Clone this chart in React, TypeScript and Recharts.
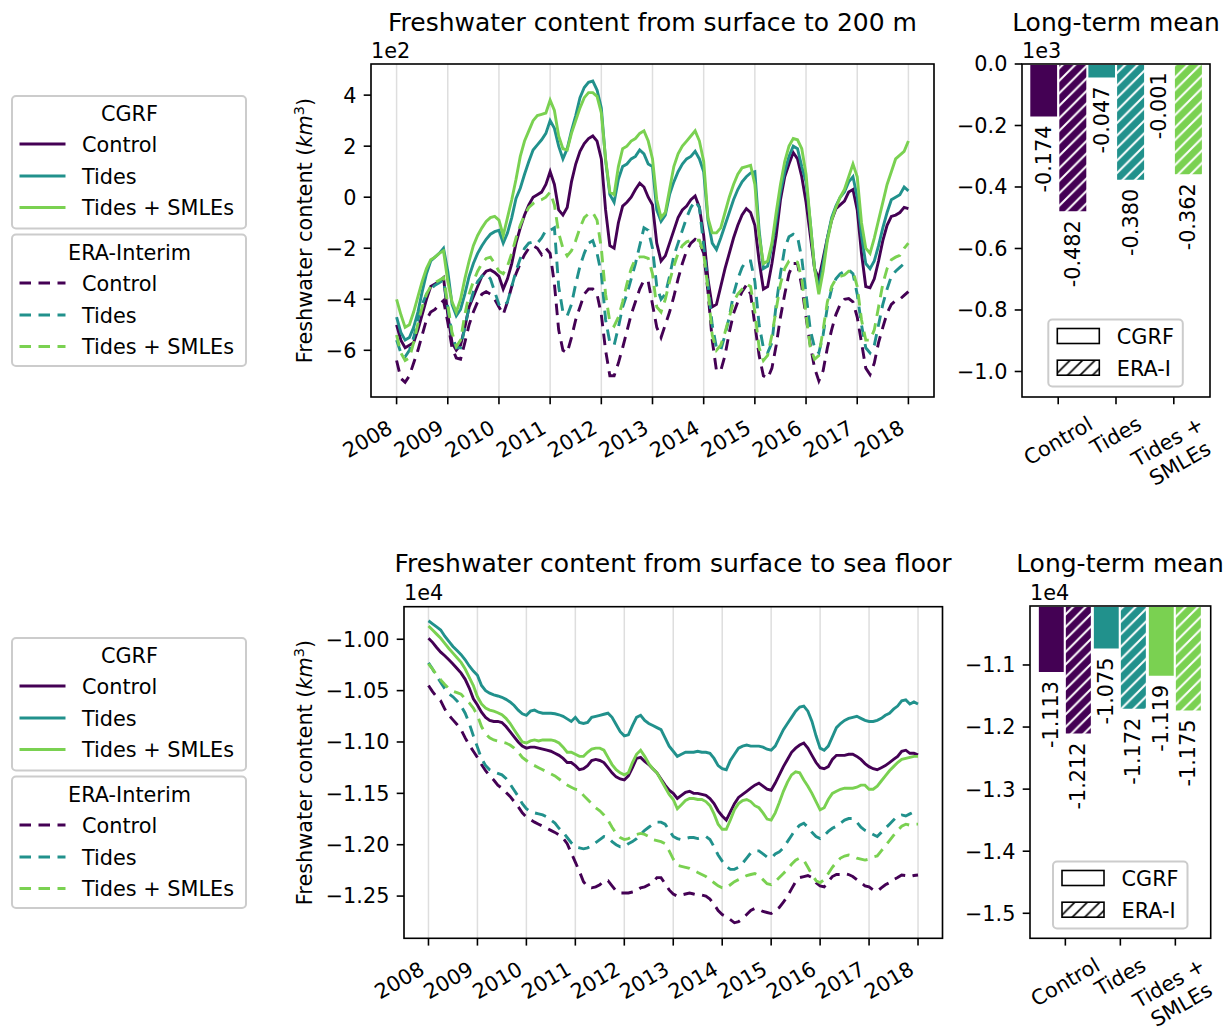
import React from 'react';
import { LineChart, Line, BarChart, Bar, Cell, LabelList, XAxis, YAxis, CartesianGrid } from 'recharts';

// ---------------------------------------------------------------------------
// Data
// ---------------------------------------------------------------------------

const START_YEAR = 2008;
const YEAR_TICKS = [2008, 2009, 2010, 2011, 2012, 2013, 2014, 2015, 2016, 2017, 2018];

// Monthly freshwater content, surface to 200 m (km^3)
const TOP_CGRF_CONTROL = [
  -500, -560, -590, -580, -570, -520, -460, -400, -350, -340, -330, -315,
  -460, -570, -600, -580, -510, -430, -390, -350, -310, -290, -285, -295,
  -310, -360, -320, -260, -180, -120, -70, -30, 0, 10, 20, 50,
  100, 50, -50, -70, -40, 60, 130, 180, 210, 230, 240, 220,
  150, -50, -190, -200, -100, -35, -20, 0, 30, 55, 40, 0,
  -30, -180, -250, -230, -180, -130, -80, -50, -35, -10, 5, -40,
  -150, -320, -430, -420, -350, -280, -220, -160, -110, -70, -45, -60,
  -110, -250, -360, -350, -260, -150, -10, 80, 130, 175, 150, 80,
  -20, -150, -280, -320, -240, -160, -90, -45, -30, -15, 20, 30,
  -50, -220, -350, -355, -320, -250, -170, -110, -75, -70, -60, -40, -45,
];
const TOP_CGRF_TIDES = [
  -470, -530, -560, -550, -510, -450, -370, -300, -250, -235, -220, -200,
  -290, -420, -465, -440, -380, -310, -260, -220, -190, -165, -145, -135,
  -130, -180, -140, -80, -5, 35, 90, 140, 185, 205, 225, 250,
  300, 270, 200, 150, 190, 260, 320, 390, 430, 450, 455, 420,
  350, 145, 10, -20, 70, 120, 130, 150, 160, 185, 170, 130,
  120, -50, -95, -70, 10, 60, 100, 130, 150, 160, 180, 150,
  100, -90, -180, -205, -160, -110, -60, -10, 30, 60, 80, 95,
  100, -130, -280, -270, -190, -90, 20, 100, 160, 200, 190, 120,
  60, -100, -280, -360, -260, -160, -80, -35, 0, 20, 60, 80,
  0, -150, -260, -280, -250, -190, -120, -60, -10, 0, 10, 40, 25,
];
const TOP_CGRF_SMLES = [
  -400, -460, -510, -500, -450, -390, -330, -280, -245, -235, -220, -210,
  -330, -410, -450, -400, -320, -250, -190, -150, -120, -95, -80, -75,
  -90, -150, -80, -10, 70, 160, 220, 260, 300, 320, 325, 330,
  380, 340, 240, 190, 185, 250, 300, 350, 390, 410, 410, 395,
  330, 150, 20, 10, 120, 190, 200, 220, 230, 250, 260, 220,
  150, -10, -80, -60, 30, 120, 170, 200, 220, 240, 260, 220,
  140, -80, -140, -140, -120, -60, 0, 50, 90, 115, 120, 125,
  50, -150, -260, -250, -180, -60, 50, 140, 200, 230, 225, 190,
  90, -100, -280, -380, -290, -170, -90, -40, 0, 30, 80, 130,
  80, -100, -200, -220, -160, -90, -20, 50, 100, 150, 165, 180, 220,
];
const TOP_ERA_CONTROL = [
  -640, -710, -725, -700, -650, -600, -540, -480, -450, -440, -420, -405,
  -490, -590, -630, -635, -570, -500, -450, -410, -380, -370, -380, -400,
  -430, -460, -410, -350, -300, -260, -225, -200, -190, -200, -225, -200,
  -220, -340, -520, -600, -610, -550, -480, -430, -380, -360, -360, -380,
  -460, -600, -700, -700, -650, -590, -525, -460, -410, -360, -325, -330,
  -420, -510, -550, -500, -450, -390, -320, -260, -210, -180, -165, -175,
  -220, -370, -560, -680, -680, -620, -530, -456, -410, -370, -345, -380,
  -500, -620, -700, -710, -670, -580, -470, -380, -300, -260, -260, -350,
  -470, -580, -670, -720, -680, -590, -520, -460, -420, -400, -397, -410,
  -470, -570, -670, -695, -650, -570, -510, -455, -420, -405, -400, -385, -370,
];
const TOP_ERA_TIDES = [
  -560, -610, -625, -600, -550, -480, -420, -380, -360, -345, -335, -325,
  -430, -540, -590, -590, -510, -430, -370, -330, -310, -300, -320, -370,
  -420, -430, -410, -350, -290, -240, -200, -180, -175, -180, -160, -130,
  -130, -120, -350, -450, -465, -420, -340, -270, -220, -180, -170, -220,
  -300, -480, -570, -580, -510, -430, -380, -320, -260, -190, -120, -130,
  -200, -350, -400, -380, -310, -230, -180, -130, -80, -40, -15, -40,
  -190, -340, -500, -590, -600, -540, -470, -380, -320, -275, -250, -250,
  -330, -500, -590, -610, -570, -420, -300, -200, -155, -145, -155, -240,
  -380, -520, -590, -610, -540, -430, -360, -320, -300, -290, -285, -300,
  -380, -500, -590, -610, -580, -500, -420, -360, -310, -290, -275, -260, -245,
];
const TOP_ERA_SMLES = [
  -540, -610, -640, -630, -570, -495, -430, -380, -350, -335, -325, -315,
  -420, -530, -585, -560, -460, -380, -330, -290, -260, -240, -235, -260,
  -290, -300, -270, -220, -160, -110, -70, -40, -25, -15, -10, 0,
  20, -30, -140, -200, -230, -210, -170, -120, -80, -65, -60, -90,
  -200, -380, -490, -505, -470, -410, -340, -280, -240, -234, -234, -240,
  -300, -430, -450, -400, -330, -270, -220, -190, -175, -170, -169, -169,
  -220, -360, -540, -600, -580, -530, -470, -410, -380, -360, -340, -350,
  -450, -590, -640, -620, -540, -440, -340, -280, -250, -247, -255, -320,
  -460, -590, -635, -620, -520, -410, -350, -320, -310, -305, -290, -290,
  -350, -480, -560, -560, -520, -430, -340, -280, -245, -235, -228, -200, -180,
];

// Monthly freshwater content, surface to sea floor (km^3)
const BOT_CGRF_CONTROL = [
  -9990, -10030, -10080, -10125, -10160, -10200, -10240, -10285, -10330, -10390, -10475, -10580,
  -10640, -10710, -10760, -10790, -10800, -10800, -10810, -10850, -10900, -10950, -11000, -11040,
  -11060, -11050, -11050, -11060, -11070, -11080, -11090, -11110, -11130, -11160, -11200, -11200,
  -11230, -11270, -11260, -11230, -11180, -11170, -11180, -11200, -11250, -11300, -11340, -11360,
  -11370, -11330, -11250, -11160, -11150, -11190, -11220, -11260, -11300, -11360, -11420, -11470,
  -11500, -11550, -11520, -11490, -11480, -11500, -11500, -11510, -11520, -11550, -11600, -11670,
  -11720, -11760, -11680, -11600, -11540, -11510, -11480, -11450, -11420, -11400, -11430, -11460,
  -11470, -11400, -11320, -11240, -11170, -11100, -11060, -11030, -11010, -11060, -11130, -11200,
  -11250, -11260, -11240, -11170, -11130, -11130, -11130, -11120, -11120, -11140, -11170, -11210,
  -11240, -11260, -11270, -11250, -11230, -11200, -11170, -11140, -11090, -11080, -11110, -11110, -11126,
];
const BOT_CGRF_TIDES = [
  -9820, -9850, -9880, -9910, -9970, -10020, -10070, -10110, -10150, -10200, -10260, -10310,
  -10350, -10450, -10500, -10525, -10542, -10552, -10565, -10585, -10610, -10645, -10690, -10725,
  -10740, -10700, -10690, -10710, -10720, -10720, -10720, -10725, -10735, -10750, -10775, -10800,
  -10760, -10810, -10820, -10810, -10760, -10750, -10740, -10730, -10720, -10760, -10830, -10900,
  -10940, -10930, -10840, -10760, -10740, -10790, -10820, -10840, -10860, -10880, -10960, -11040,
  -11090, -11140, -11120, -11100, -11100, -11100, -11090, -11100, -11100, -11110, -11160, -11230,
  -11260, -11270, -11180, -11120, -11060, -11040, -11030, -11040, -11040, -11040, -11050, -11070,
  -11080, -11040, -10960, -10880, -10820, -10760, -10700, -10660, -10650, -10700, -10800, -10940,
  -11060, -11080, -11040, -10950, -10860, -10820, -10790, -10770, -10760, -10750, -10770, -10790,
  -10800, -10800, -10790, -10770, -10740, -10720, -10680, -10650, -10600, -10590, -10630, -10610, -10630,
];
const BOT_CGRF_SMLES = [
  -9870, -9910, -9950, -9990, -10040, -10090, -10135, -10180, -10225, -10290, -10370, -10450,
  -10560, -10630, -10670, -10690, -10700, -10715, -10735, -10770, -10818, -10880, -10940, -11000,
  -11010, -10990, -10980, -10990, -10980, -10980, -10980, -10990, -11010, -11050, -11100, -11100,
  -11120, -11140, -11140, -11100, -11070, -11060, -11060, -11080, -11150, -11220, -11270, -11300,
  -11320, -11300, -11200, -11120, -11080, -11140, -11210, -11260, -11300, -11370, -11440, -11510,
  -11560, -11650, -11610, -11570, -11550, -11550, -11560, -11560, -11580, -11620, -11700, -11800,
  -11850, -11850, -11760, -11660, -11600, -11570, -11560, -11580, -11620, -11640, -11690, -11750,
  -11760, -11690, -11590, -11480, -11390, -11320, -11290, -11300, -11370, -11430, -11500, -11580,
  -11660, -11640, -11560, -11500, -11480, -11460, -11450, -11450, -11450, -11440, -11420, -11420,
  -11460, -11460, -11430, -11380, -11330, -11280, -11240, -11200, -11170, -11160, -11150, -11140, -11140,
];
const BOT_ERA_CONTROL = [
  -10450, -10510, -10560, -10600, -10680, -10740, -10785, -10830, -10880, -10960, -11030, -11090,
  -11150, -11220, -11280, -11330, -11370, -11420, -11450, -11490, -11530, -11580, -11630, -11690,
  -11730, -11755, -11780, -11800, -11820, -11840, -11860, -11880, -11905, -11937, -11990, -12080,
  -12170, -12260, -12360, -12410, -12420, -12410, -12390, -12350, -12350, -12400, -12450, -12470,
  -12470, -12470, -12460, -12450, -12420, -12410, -12390, -12370, -12320, -12320, -12380, -12440,
  -12480, -12500, -12490, -12480, -12470, -12480, -12490, -12490, -12500, -12530, -12580, -12640,
  -12680, -12700, -12730, -12760, -12750, -12720, -12680, -12640, -12620, -12630, -12650, -12660,
  -12670, -12640, -12610, -12560, -12500, -12430, -12360, -12320, -12310, -12300, -12320, -12370,
  -12400, -12410, -12360, -12310, -12290, -12290, -12280, -12290, -12310, -12340, -12370, -12400,
  -12410, -12440, -12455, -12420, -12390, -12370, -12340, -12320, -12295, -12300, -12310, -12300, -12295,
];
const BOT_ERA_TIDES = [
  -10230, -10290, -10360, -10420, -10480, -10530, -10560, -10600, -10650, -10720, -10820, -10940,
  -11050, -11160, -11230, -11270, -11290, -11305, -11320, -11355, -11410, -11470, -11530, -11600,
  -11650, -11680, -11690, -11700, -11710, -11730, -11760, -11790, -11840, -11880, -11930, -11980,
  -12020, -12030, -12040, -12030, -12010, -11980, -11950, -11920, -11930, -11970, -12000, -12020,
  -12020, -11990, -11970, -11940, -11900, -11860, -11830, -11800, -11780, -11780, -11800, -11860,
  -11920, -11940, -11950, -11940, -11930, -11930, -11940, -11930, -11920, -11950, -12020, -12100,
  -12160, -12210, -12240, -12240, -12220, -12180, -12130, -12080, -12060, -12060, -12090, -12120,
  -12130, -12090, -12070, -12030, -11970, -11910, -11850, -11810, -11790, -11830, -11880, -11920,
  -11940, -11910, -11870, -11840, -11820, -11790, -11760, -11745, -11745, -11780, -11830, -11860,
  -11880, -11900, -11920, -11880, -11840, -11800, -11760, -11720, -11710, -11720, -11700, -11680, -11680,
];
const BOT_ERA_SMLES = [
  -10240, -10290, -10345, -10395, -10440, -10480, -10505, -10520, -10535, -10580, -10620, -10670,
  -10740, -10850, -10920, -10960, -10980, -10990, -11000, -11010, -11030, -11060, -11100, -11150,
  -11180, -11210, -11230, -11250, -11270, -11290, -11310, -11330, -11360, -11390, -11420, -11440,
  -11460, -11470, -11520, -11560, -11600, -11640, -11670, -11710, -11760, -11830, -11890, -11930,
  -11950, -11940, -11920, -11900, -11890, -11900, -11920, -11950, -11960, -11970, -11990, -12060,
  -12140, -12200, -12210, -12220, -12230, -12250, -12270, -12290, -12310, -12340, -12370, -12400,
  -12420, -12420, -12390, -12360, -12340, -12320, -12300, -12290, -12280, -12300, -12340, -12380,
  -12390, -12360, -12320, -12280, -12240, -12190, -12150, -12130, -12150, -12220, -12290, -12350,
  -12370, -12340, -12280, -12220, -12170, -12130, -12110, -12100, -12110, -12130, -12140, -12150,
  -12140, -12120, -12110, -12060, -12010, -11960, -11910, -11860, -11820, -11800, -11810, -11800, -11800,
];

// Long-term means (km^3)
const EXPERIMENTS = ['Control', 'Tides', 'Tides +\nSMLEs'];
const TOP_MEAN_CGRF = [-174, -47, -1];
const TOP_MEAN_ERA = [-482, -380, -362];
const BOT_MEAN_CGRF = [-11130, -10750, -11190];
const BOT_MEAN_ERA = [-12120, -11720, -11750];

// Axis ticks
const TOP_Y_TICKS = [-600, -400, -200, 0, 200, 400];
const BOT_Y_TICKS = [-12500, -12000, -11500, -11000, -10500, -10000];
const TOP_BAR_TICKS = [-1000, -800, -600, -400, -200, 0];
const BOT_BAR_TICKS = [-15000, -14000, -13000, -12000, -11000];

// ---------------------------------------------------------------------------
// Styling
// ---------------------------------------------------------------------------

const FONT = '"DejaVu Sans", sans-serif';
const FS = 20.8;
const TITLE_FS = 25;
const TICK_LEN = 7.3;
const TICK_PAD = 7.3;
const VIRIDIS = ['#440154', '#21918c', '#7ad151'];
const DASH = '11.5 7.5';
const LINE_W = 2.9;

const SERIES_KEYS = ['cgrfControl', 'cgrfTides', 'cgrfSmles', 'eraControl', 'eraTides', 'eraSmles'];
const LINE_SERIES = SERIES_KEYS.map((key, i) => ({
  key,
  color: VIRIDIS[i % 3],
  dashed: i >= 3,
}));
const LEGEND_LABELS = ['Control', 'Tides', 'Tides + SMLEs'];

type Row = Record<string, number>;

function makeRows(cols: number[][]): Row[] {
  return cols[0].map((_, i) => {
    const row: Row = { t: START_YEAR + i / 12 };
    SERIES_KEYS.forEach((k, j) => {
      row[k] = cols[j][i];
    });
    return row;
  });
}

const TOP_ROWS = makeRows([TOP_CGRF_CONTROL, TOP_CGRF_TIDES, TOP_CGRF_SMLES, TOP_ERA_CONTROL, TOP_ERA_TIDES, TOP_ERA_SMLES]);
const BOT_ROWS = makeRows([BOT_CGRF_CONTROL, BOT_CGRF_TIDES, BOT_CGRF_SMLES, BOT_ERA_CONTROL, BOT_ERA_TIDES, BOT_ERA_SMLES]);

const TOP_BARS = EXPERIMENTS.map((name, i) => ({ name, cgrf: TOP_MEAN_CGRF[i], era: TOP_MEAN_ERA[i] }));
const BOT_BARS = EXPERIMENTS.map((name, i) => ({ name, cgrf: BOT_MEAN_CGRF[i], era: BOT_MEAN_ERA[i] }));

const minus = (s: string) => s.replace('-', '\u2212');

let measureCtx: CanvasRenderingContext2D | null = null;
function textWidth(s: string): number {
  if (!measureCtx) measureCtx = document.createElement('canvas').getContext('2d');
  if (!measureCtx) return s.length * FS * 0.55;
  measureCtx.font = `${FS}px "DejaVu Sans"`;
  return measureCtx.measureText(s).width;
}

// ---------------------------------------------------------------------------
// Tick and label renderers
// ---------------------------------------------------------------------------

function YearTick(props: any) {
  const { x, payload, axisY } = props;
  const ax = x - 2.5;
  const ay = axisY + 35;
  return (
    <text x={ax} y={ay} textAnchor="end" fontSize={FS} fontFamily={FONT} fill="#000" transform={`rotate(-30, ${ax}, ${ay})`}>
      {payload.value}
    </text>
  );
}

function GroupTick(props: any) {
  const { x, payload, axisY } = props;
  const lines = String(payload.value).split('\n');
  const lh = 1.2 * FS;
  const w = Math.max(...lines.map(textWidth));
  const h = (lines.length - 1) * lh + 1.17 * FS;
  const bh = w * 0.5 + h * 0.866;
  const cy = axisY + TICK_LEN + TICK_PAD + bh / 2;
  return (
    <g transform={`rotate(-30, ${x}, ${cy})`}>
      {lines.map((l, i) => (
        <text
          key={i}
          x={x}
          y={cy + (i - (lines.length - 1) / 2) * lh}
          textAnchor="middle"
          dominantBaseline="central"
          fontSize={FS}
          fontFamily={FONT}
          fill="#000"
        >
          {l}
        </text>
      ))}
    </g>
  );
}

function ValueLabel(props: any) {
  const { value, divisor } = props;
  const vb = props.viewBox && props.viewBox.width != null ? props.viewBox : props;
  const cx = vb.x + vb.width / 2;
  const end = Math.max(vb.y, vb.y + vb.height) + 8;
  return (
    <text
      x={cx}
      y={end}
      transform={`rotate(-90, ${cx}, ${end})`}
      textAnchor="end"
      dominantBaseline="central"
      fontSize={FS}
      fontFamily={FONT}
      fill="#000"
    >
      {(Number(value) / divisor).toFixed(3)}
    </text>
  );
}

// ---------------------------------------------------------------------------
// Panels
// ---------------------------------------------------------------------------

type LinePanelProps = {
  rows: Row[];
  width: number;
  height: number;
  top: number;
  right: number;
  yWidth: number;
  xHeight: number;
  yDomain: [number, number];
  yTicks: number[];
  yFormat: (v: number) => string;
};

function TimeSeriesPanel(p: LinePanelProps) {
  const axisY = p.height - p.xHeight;
  return (
    <LineChart width={p.width} height={p.height} data={p.rows} margin={{ top: p.top, right: p.right, bottom: 0, left: 0 }}>
      <CartesianGrid horizontal={false} stroke="#dedede" strokeWidth={1.5} />
      <XAxis
        dataKey="t"
        type="number"
        domain={[2007.5, 2018.5]}
        ticks={YEAR_TICKS}
        interval={0}
        allowDataOverflow
        height={p.xHeight}
        axisLine={false}
        tickSize={TICK_LEN}
        tickLine={{ stroke: '#000', strokeWidth: 1.6 }}
        tick={<YearTick axisY={axisY} />}
      />
      <YAxis
        type="number"
        domain={p.yDomain}
        ticks={p.yTicks}
        interval={0}
        allowDataOverflow
        width={p.yWidth}
        axisLine={false}
        tickSize={TICK_LEN}
        tickMargin={TICK_PAD}
        tickLine={{ stroke: '#000', strokeWidth: 1.6 }}
        tick={{ fontSize: FS, fill: '#000', fontFamily: FONT }}
        tickFormatter={p.yFormat}
      />
      {LINE_SERIES.map((s) => (
        <Line
          key={s.key}
          dataKey={s.key}
          type="linear"
          stroke={s.color}
          strokeWidth={LINE_W}
          strokeDasharray={s.dashed ? DASH : undefined}
          dot={false}
          activeDot={false}
          isAnimationActive={false}
        />
      ))}
    </LineChart>
  );
}

type BarPanelProps = {
  id: string;
  rows: { name: string; cgrf: number; era: number }[];
  width: number;
  height: number;
  top: number;
  right: number;
  yWidth: number;
  xHeight: number;
  pad: number;
  yDomain: [number, number];
  yTicks: number[];
  yFormat: (v: number) => string;
  divisor: number;
};

function MeanPanel(p: BarPanelProps) {
  const axisY = p.height - p.xHeight;
  return (
    <BarChart
      width={p.width}
      height={p.height}
      data={p.rows}
      margin={{ top: p.top, right: p.right, bottom: 0, left: 0 }}
      barGap={0}
      barCategoryGap={0}
    >
      <defs>
        {VIRIDIS.map((c, i) => (
          <pattern key={c} id={`${p.id}-hatch-${i}`} patternUnits="userSpaceOnUse" width={12.5} height={12.5}>
            <rect width={12.5} height={12.5} fill={c} />
            <path d="M-3.125,3.125 L3.125,-3.125 M0,12.5 L12.5,0 M9.375,15.625 L15.625,9.375" stroke="#fff" strokeWidth={2} />
          </pattern>
        ))}
      </defs>
      <XAxis
        dataKey="name"
        type="category"
        padding={{ left: p.pad, right: p.pad }}
        height={p.xHeight}
        interval={0}
        axisLine={false}
        tickSize={TICK_LEN}
        tickLine={{ stroke: '#000', strokeWidth: 1.6 }}
        tick={<GroupTick axisY={axisY} />}
      />
      <YAxis
        type="number"
        domain={p.yDomain}
        ticks={p.yTicks}
        interval={0}
        allowDataOverflow
        width={p.yWidth}
        axisLine={false}
        tickSize={TICK_LEN}
        tickMargin={TICK_PAD}
        tickLine={{ stroke: '#000', strokeWidth: 1.6 }}
        tick={{ fontSize: FS, fill: '#000', fontFamily: FONT }}
        tickFormatter={p.yFormat}
      />
      <Bar dataKey="cgrf" stroke="#fff" strokeWidth={2} isAnimationActive={false}>
        {p.rows.map((_, i) => (
          <Cell key={i} fill={VIRIDIS[i]} />
        ))}
        <LabelList dataKey="cgrf" content={<ValueLabel divisor={p.divisor} />} />
      </Bar>
      <Bar dataKey="era" stroke="#fff" strokeWidth={2} isAnimationActive={false}>
        {p.rows.map((_, i) => (
          <Cell key={i} fill={`url(#${p.id}-hatch-${i})`} />
        ))}
        <LabelList dataKey="era" content={<ValueLabel divisor={p.divisor} />} />
      </Bar>
    </BarChart>
  );
}

// ---------------------------------------------------------------------------
// Static decorations: frames, titles, legends
// ---------------------------------------------------------------------------

function Frame({ x, y, w, h }: { x: number; y: number; w: number; h: number }) {
  return <rect x={x} y={y} width={w} height={h} fill="none" stroke="#000" strokeWidth={1.6} />;
}

function SeriesLegend({ dy }: { dy: number }) {
  const groups = [
    { title: 'CGRF', top: 96, titleY: 113.3, rows: [144, 176, 207.5], h: 132.5, dashed: false },
    { title: 'ERA-Interim', top: 234.5, titleY: 252.5, rows: [283, 315, 346.5], h: 131.5, dashed: true },
  ];
  return (
    <g transform={`translate(0, ${dy})`}>
      {groups.map((g) => (
        <g key={g.title}>
          <rect x={12} y={g.top} width={234} height={g.h} rx={4} fill="#fff" fillOpacity={0.8} stroke="#cccccc" strokeWidth={2} />
          <text x={129.5} y={g.titleY + 7.5} textAnchor="middle" fontSize={FS}>
            {g.title}
          </text>
          {g.rows.map((ry, i) => (
            <g key={i}>
              <line x1={19.5} x2={65.5} y1={ry} y2={ry} stroke={VIRIDIS[i]} strokeWidth={LINE_W} strokeDasharray={g.dashed ? DASH : undefined} />
              <text x={82} y={ry + 7.5} fontSize={FS}>
                {LEGEND_LABELS[i]}
              </text>
            </g>
          ))}
        </g>
      ))}
    </g>
  );
}

function ForcingLegend({ x, y }: { x: number; y: number }) {
  return (
    <g transform={`translate(${x}, ${y})`}>
      <rect x={0} y={0} width={134.5} height={67} rx={4} fill="#fff" fillOpacity={0.8} stroke="#cccccc" strokeWidth={2} />
      <rect x={9} y={9} width={42} height={15} fill="#fff" stroke="#000" strokeWidth={1.6} />
      <rect x={9} y={40.7} width={42} height={15} fill="url(#legend-hatch)" stroke="#000" strokeWidth={1.6} />
      <text x={68.5} y={17.4 + 7.5} fontSize={FS}>
        CGRF
      </text>
      <text x={68.5} y={49 + 7.5} fontSize={FS}>
        ERA-I
      </text>
    </g>
  );
}

function YLabel({ x, y }: { x: number; y: number }) {
  return (
    <text x={x} y={y} transform={`rotate(-90, ${x}, ${y})`} textAnchor="middle" fontSize={FS}>
      Freshwater content (<tspan fontStyle="italic">km</tspan>
      <tspan dy={-8} fontSize={14.5}>
        3
      </tspan>
      <tspan dy={8}>)</tspan>
    </text>
  );
}

function Decorations() {
  return (
    <svg
      width={1229}
      height={1027}
      style={{ position: 'absolute', left: 0, top: 0, pointerEvents: 'none' }}
      fontFamily={FONT}
      fill="#000"
    >
      <defs>
        <pattern id="legend-hatch" patternUnits="userSpaceOnUse" width={12.5} height={12.5}>
          <rect width={12.5} height={12.5} fill="#fff" />
          <path d="M-3.125,3.125 L3.125,-3.125 M0,12.5 L12.5,0 M9.375,15.625 L15.625,9.375" stroke="#000" strokeWidth={1.6} />
        </pattern>
      </defs>

      <Frame x={371} y={64} w={563} h={333} />
      <Frame x={1022} y={64} w={188} h={333} />
      <Frame x={404} y={606.7} w={538.5} h={331.6} />
      <Frame x={1030} y={606} w={180.7} h={332.3} />

      <text x={652.5} y={30.5} textAnchor="middle" fontSize={TITLE_FS}>
        Freshwater content from surface to 200 m
      </text>
      <text x={1116} y={30.5} textAnchor="middle" fontSize={TITLE_FS}>
        Long-term mean
      </text>
      <text x={673} y={572} textAnchor="middle" fontSize={TITLE_FS}>
        Freshwater content from surface to sea floor
      </text>
      <text x={1120} y={572} textAnchor="middle" fontSize={TITLE_FS}>
        Long-term mean
      </text>

      <text x={371} y={57.5} fontSize={FS}>1e2</text>
      <text x={1022} y={57.5} fontSize={FS}>1e3</text>
      <text x={404} y={599.5} fontSize={FS}>1e4</text>
      <text x={1030} y={599.5} fontSize={FS}>1e4</text>

      <YLabel x={312} y={230.5} />
      <YLabel x={312} y={772.5} />

      <SeriesLegend dy={0} />
      <SeriesLegend dy={542} />

      <ForcingLegend x={1048.3} y={319.5} />
      <ForcingLegend x={1053} y={861.5} />
    </svg>
  );
}

// ---------------------------------------------------------------------------
// Figure
// ---------------------------------------------------------------------------

const fmtTopLine = (v: number) => minus(String(Math.round(v / 100)));
const fmtBotLine = (v: number) => minus((v / 1e4).toFixed(2));
const fmtTopBar = (v: number) => minus((v / 1e3).toFixed(1));
const fmtBotBar = (v: number) => minus((v / 1e4).toFixed(1));

export default function App() {
  return (
    <div
      style={{
        position: 'absolute',
        left: 0,
        top: 0,
        width: 1229,
        height: 1027,
        background: '#fff',
        fontFamily: FONT,
        overflow: 'hidden',
      }}
    >
      <div style={{ position: 'absolute', left: 280, top: 0 }}>
        <TimeSeriesPanel
          rows={TOP_ROWS}
          width={680}
          height={470}
          top={64}
          right={26}
          yWidth={91}
          xHeight={73}
          yDomain={[-783, 522]}
          yTicks={TOP_Y_TICKS}
          yFormat={fmtTopLine}
        />
      </div>
      <div style={{ position: 'absolute', left: 940, top: 0 }}>
        <MeanPanel
          id="top"
          rows={TOP_BARS}
          width={289}
          height={510}
          top={64}
          right={19}
          yWidth={82}
          xHeight={113}
          pad={7.3}
          yDomain={[-1083, 0]}
          yTicks={TOP_BAR_TICKS}
          yFormat={fmtTopBar}
          divisor={1e3}
        />
      </div>
      <div style={{ position: 'absolute', left: 280, top: 540 }}>
        <TimeSeriesPanel
          rows={BOT_ROWS}
          width={680}
          height={487}
          top={66.7}
          right={17.5}
          yWidth={124}
          xHeight={88.7}
          yDomain={[-12911, -9683]}
          yTicks={BOT_Y_TICKS}
          yFormat={fmtBotLine}
        />
      </div>
      <div style={{ position: 'absolute', left: 940, top: 540 }}>
        <MeanPanel
          id="bottom"
          rows={BOT_BARS}
          width={289}
          height={487}
          top={66}
          right={18.3}
          yWidth={90}
          xHeight={88.7}
          pad={7.85}
          yDomain={[-15403, -10050]}
          yTicks={BOT_BAR_TICKS}
          yFormat={fmtBotBar}
          divisor={1e4}
        />
      </div>
      <Decorations />
    </div>
  );
}
